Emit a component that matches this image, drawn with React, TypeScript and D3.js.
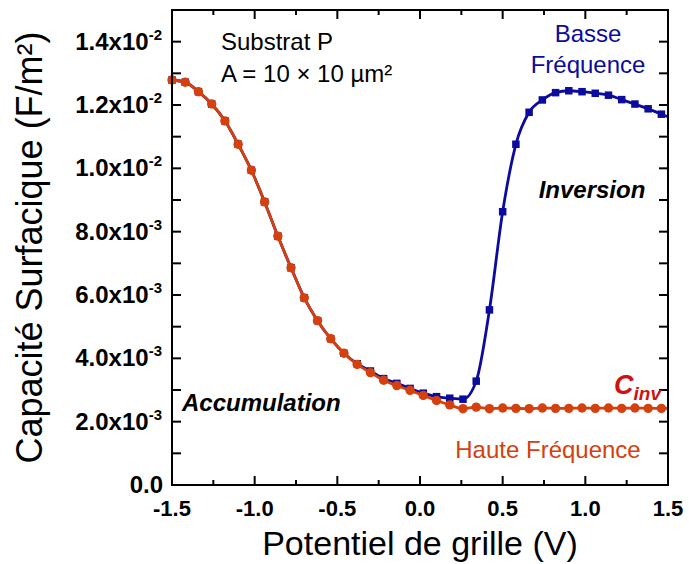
import React from 'react';
import * as d3 from 'd3';

// Gate voltage (V) at each measured marker
const gateVoltage = [
  -1.50, -1.42, -1.34, -1.26, -1.18, -1.10, -1.02, -0.94, -0.86, -0.78,
  -0.70, -0.62, -0.54, -0.46, -0.38, -0.30, -0.22, -0.14, -0.06, 0.02,
  0.10, 0.18, 0.26, 0.34, 0.42, 0.50, 0.58, 0.66, 0.74, 0.82,
  0.90, 0.98, 1.06, 1.14, 1.22, 1.30, 1.38, 1.46,
];

// High frequency capacitance (F/m²)
const capHF = [
  0.01279, 0.01272, 0.01242, 0.01203, 0.01150, 0.01076, 0.00994, 0.00894, 0.00786, 0.00686,
  0.00591, 0.00519, 0.00462, 0.00416, 0.00381, 0.00355, 0.00331, 0.00314, 0.00299, 0.00283,
  0.00267, 0.00253, 0.00241, 0.00246, 0.00241, 0.00243, 0.00242, 0.00241, 0.00243, 0.00242,
  0.00242, 0.00243, 0.00242, 0.00243, 0.00242, 0.00243, 0.00242, 0.00242,
];

// Low frequency capacitance (F/m²)
const capLF = [
  0.01279, 0.01272, 0.01242, 0.01203, 0.01150, 0.01076, 0.00994, 0.00894, 0.00786, 0.00686,
  0.00591, 0.00519, 0.00462, 0.00416, 0.00383, 0.00360, 0.00336, 0.00321, 0.00305, 0.00290,
  0.00279, 0.00274, 0.00271, 0.00328, 0.00553, 0.00863, 0.01076, 0.01177, 0.01216, 0.01239,
  0.01245, 0.01242, 0.01237, 0.01231, 0.01217, 0.01203, 0.01188, 0.01171,
];

// Curves continue to the right frame edge
const lineEndVoltage = 1.5;
const capHFEnd = 0.00242;
const capLFEnd = 0.01163;

const xMajorTicks = [-1.5, -1.0, -0.5, 0.0, 0.5, 1.0, 1.5];
const xTickLabels = ['-1.5', '-1.0', '-0.5', '0.0', '0.5', '1.0', '1.5'];
const xMinorTicks = [-1.25, -0.75, -0.25, 0.25, 0.75, 1.25];
const yMajorTicks = [0, 0.002, 0.004, 0.006, 0.008, 0.010, 0.012, 0.014];
const yTickMantissa = ['0.0', '2.0', '4.0', '6.0', '8.0', '1.0', '1.2', '1.4'];
const yTickExponent = ['', '-3', '-3', '-3', '-3', '-2', '-2', '-2'];
const yMinorTicks = [0.001, 0.003, 0.005, 0.007, 0.009, 0.011, 0.013];

const BLUE = '#0B0B9E';
const ORANGE = '#D4400E';
const RED = '#CC1212';
const FONT = "'Liberation Sans', Arial, sans-serif";

export default function App() {
  const W = 689;
  const H = 564;
  const left = 172, right = 668, top = 10, bottom = 485;
  const x = d3.scaleLinear().domain([-1.5, 1.5]).range([left, right]);
  const y = d3.scaleLinear().domain([0, 0.015]).range([bottom, top]);

  const lfPts: [number, number][] = gateVoltage.map((v, i) => [v, capLF[i]]);
  const hfPts: [number, number][] = gateVoltage.map((v, i) => [v, capHF[i]]);
  const lfLine = [...lfPts, [lineEndVoltage, capLFEnd] as [number, number]];
  const hfLine = [...hfPts, [lineEndVoltage, capHFEnd] as [number, number]];

  const lineBlue = d3.line<[number, number]>().x(d => x(d[0])).y(d => y(d[1])).curve(d3.curveMonotoneX);
  const lineRed = d3.line<[number, number]>().x(d => x(d[0])).y(d => y(d[1])).curve(d3.curveMonotoneX);

  const sq = 7.5;
  const majorLen = 9;
  const minorLen = 5;

  return (
    <svg width={W} height={H} style={{ position: 'absolute', left: 0, top: 0, background: '#fff' }} fontFamily={FONT}>
      <rect x={0} y={0} width={W} height={H} fill="#fff" />

      {/* curves */}
      <path d={lineBlue(lfLine) || ''} fill="none" stroke={BLUE} strokeWidth={2.8} />
      {lfPts.map((d, i) => (
        <rect key={'b' + i} x={x(d[0]) - sq / 2} y={y(d[1]) - sq / 2} width={sq} height={sq} fill={BLUE} />
      ))}
      <path d={lineRed(hfLine) || ''} fill="none" stroke={ORANGE} strokeWidth={2.8} />
      {hfPts.map((d, i) => (
        <circle key={'r' + i} cx={x(d[0])} cy={y(d[1])} r={4.7} fill={ORANGE} />
      ))}

      {/* frame */}
      <rect x={left} y={top} width={right - left} height={bottom - top} fill="none" stroke="#000" strokeWidth={2} />

      {/* x ticks */}
      {xMajorTicks.map((v, i) => (
        <g key={'xm' + i}>
          <line x1={x(v)} x2={x(v)} y1={bottom} y2={bottom - majorLen} stroke="#000" strokeWidth={2} />
          <line x1={x(v)} x2={x(v)} y1={top} y2={top + majorLen} stroke="#000" strokeWidth={2} />
          <text x={x(v)} y={516} textAnchor="middle" fontSize={22} fontWeight="bold" fill="#000">{xTickLabels[i]}</text>
        </g>
      ))}
      {xMinorTicks.map((v, i) => (
        <g key={'xn' + i}>
          <line x1={x(v)} x2={x(v)} y1={bottom} y2={bottom - minorLen} stroke="#000" strokeWidth={2} />
          <line x1={x(v)} x2={x(v)} y1={top} y2={top + minorLen} stroke="#000" strokeWidth={2} />
        </g>
      ))}

      {/* y ticks */}
      {yMajorTicks.map((v, i) => (
        <g key={'ym' + i}>
          <line x1={left} x2={left + majorLen} y1={y(v)} y2={y(v)} stroke="#000" strokeWidth={2} />
          <line x1={right} x2={right - majorLen} y1={y(v)} y2={y(v)} stroke="#000" strokeWidth={2} />
          <text x={yTickExponent[i] ? 162 : 163} y={y(v) + 8} textAnchor="end" fontSize={24} fontWeight="bold" fill="#000">
            <tspan>{yTickMantissa[i] + (yTickExponent[i] ? 'x10' : '')}</tspan>
            {yTickExponent[i] && <tspan dy={-10} fontSize={15}>{yTickExponent[i]}</tspan>}
          </text>
        </g>
      ))}
      {yMinorTicks.map((v, i) => (
        <g key={'yn' + i}>
          <line x1={left} x2={left + majorLen} y1={y(v)} y2={y(v)} stroke="#000" strokeWidth={2} />
          <line x1={right} x2={right - majorLen} y1={y(v)} y2={y(v)} stroke="#000" strokeWidth={2} />
        </g>
      ))}

      {/* axis titles */}
      <text x={(left + right) / 2} y={555} textAnchor="middle" fontSize={34} fill="#000">Potentiel de grille (V)</text>
      <text transform={`translate(42, ${(top + bottom) / 2}) rotate(-90)`} textAnchor="middle" fontSize={36} fill="#000">
        Capacité Surfacique (F/m²)
      </text>

      {/* annotations */}
      <text x={221} y={50} fontSize={24} fill="#000">Substrat P</text>
      <text x={221} y={82} fontSize={24} fill="#000">A = 10 × 10 µm²</text>
      <text x={588} y={42} textAnchor="middle" fontSize={24} fill={BLUE}>Basse</text>
      <text x={588} y={73} textAnchor="middle" fontSize={24} fill={BLUE}>Fréquence</text>
      <text x={592} y={198} textAnchor="middle" fontSize={24} fontWeight="bold" fontStyle="italic" fill="#000">Inversion</text>
      <text x={182} y={411} fontSize={24} fontWeight="bold" fontStyle="italic" fill="#000">Accumulation</text>
      <text x={614} y={394} fontSize={27} fontWeight="bold" fontStyle="italic" fill={RED}>
        C<tspan fontSize={19} dy={6}>inv</tspan>
      </text>
      <text x={548} y={458} textAnchor="middle" fontSize={24} fill={ORANGE}>Haute Fréquence</text>
    </svg>
  );
}
